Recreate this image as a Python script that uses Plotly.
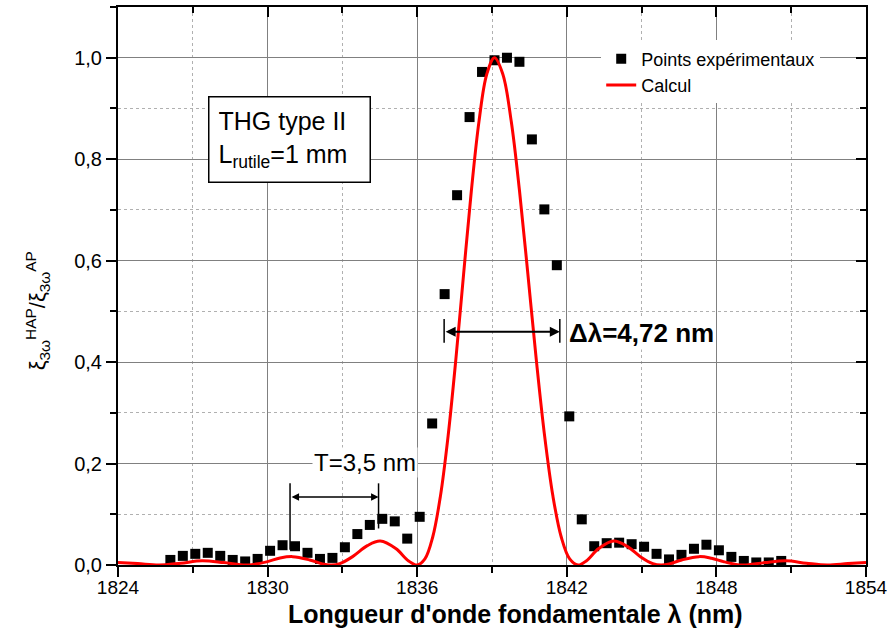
import plotly.graph_objects as go

# ---------------- data ----------------
exp_x = [1826.1, 1826.6, 1827.1, 1827.6, 1828.1, 1828.6, 1829.1, 1829.6, 1830.1, 1830.6,
         1831.1, 1831.6, 1832.1, 1832.6, 1833.1, 1833.6, 1834.1, 1834.6, 1835.1, 1835.6,
         1836.1, 1836.6, 1837.1, 1837.6, 1838.1, 1838.6, 1839.1, 1839.6, 1840.1, 1840.6,
         1841.1, 1841.6, 1842.1, 1842.6, 1843.1, 1843.6, 1844.1, 1844.6, 1845.1, 1845.6,
         1846.1, 1846.6, 1847.1, 1847.6, 1848.1, 1848.6, 1849.1, 1849.6, 1850.1, 1850.6]
exp_y = [0.010, 0.018, 0.022, 0.024, 0.018, 0.010, 0.007, 0.012, 0.028, 0.039,
         0.037, 0.024, 0.012, 0.014, 0.035, 0.061, 0.079, 0.091, 0.086, 0.052,
         0.095, 0.279, 0.534, 0.729, 0.883, 0.972, 0.995, 1.000, 0.992, 0.839,
         0.701, 0.591, 0.293, 0.090, 0.037, 0.043, 0.044, 0.041, 0.036, 0.022,
         0.011, 0.020, 0.032, 0.040, 0.029, 0.016, 0.008, 0.005, 0.005, 0.008]

calc_x = [1824.0, 1824.79, 1825.65, 1826.51, 1827.375, 1828.24, 1829.1, 1829.445, 1830.0, 1830.5,
          1831.0, 1831.69, 1832.2, 1832.55, 1832.895, 1833.41, 1834.0, 1834.52, 1835.14, 1835.655,
          1836.0, 1836.31, 1836.62, 1836.93, 1837.24, 1837.55, 1837.86, 1838.17, 1838.48, 1838.79,
          1839.1, 1839.435, 1839.77, 1840.105, 1840.44, 1840.775, 1841.11, 1841.445, 1841.78, 1842.115,
          1842.45, 1842.78, 1843.28, 1843.88, 1844.45, 1844.95, 1845.45, 1845.78, 1846.11, 1846.61,
          1847.31, 1847.8, 1848.28, 1848.78, 1849.11, 1849.94, 1850.78, 1851.61, 1852.44, 1853.27,
          1854.0]
calc_y = [0.0050, 0.0028, 0.0, 0.0036, 0.0083, 0.0048, 0.0, 0.0012, 0.0067, 0.0138,
          0.0165, 0.0100, 0.0022, 0.0, 0.0027, 0.0165, 0.0381, 0.0472, 0.0324, 0.0080,
          0.0, 0.0120, 0.0547, 0.1353, 0.2546, 0.4053, 0.5729, 0.7368, 0.8751, 0.9675,
          1.0, 0.9675, 0.8751, 0.7368, 0.5729, 0.4053, 0.2546, 0.1353, 0.0547, 0.0120,
          0.0, 0.0080, 0.0324, 0.0472, 0.0358, 0.0165, 0.0027, 0.0, 0.0022, 0.0100,
          0.0165, 0.0133, 0.0067, 0.0012, 0.0, 0.0048, 0.0083, 0.0036, 0.0, 0.0028,
          0.0049]

x_range = [1824, 1854]
y_range = [0, 1.1]
x_dtick, x_minor = 6, 3
y_dtick, y_minor = 0.2, 0.1

# ---------------- figure ----------------
FONT = "Liberation Sans, Arial, sans-serif"
fig = go.Figure()

fig.add_trace(go.Scatter(x=exp_x, y=exp_y, mode="markers", name="Points expérimentaux",
                         marker=dict(symbol="square", size=10, color="black")))
fig.add_trace(go.Scatter(x=calc_x, y=calc_y, mode="lines", name="Calcul",
                         line=dict(color="#ff0000", width=3, shape="spline", smoothing=1)))
# helper trace so the mirrored (top/right) tick axes are drawn
fig.add_trace(go.Scatter(x=[x_range[0]], y=[y_range[0]], xaxis="x2", yaxis="y2", mode="markers",
                         marker=dict(opacity=0), showlegend=False, hoverinfo="skip"))

grid_major = "#808080"
grid_minor = "#b0b0b0"

fig.update_layout(
    width=893, height=637,
    margin=dict(l=118, r=25, t=5, b=72),
    paper_bgcolor="white", plot_bgcolor="white",
    separators=", ",
    font=dict(family=FONT, color="black", size=19),
    showlegend=True,
    legend=dict(x=0.646, y=0.94, xanchor="left", yanchor="top", bgcolor="white",
                font=dict(size=18, family=FONT), tracegroupgap=0),
    xaxis=dict(range=x_range, tick0=x_range[0], dtick=x_dtick, tickformat="d",
               ticks="outside", ticklen=10, tickwidth=2, tickcolor="black",
               ticklabelstandoff=-6,
               showline=True, linewidth=2, linecolor="black", mirror=True,
               showgrid=True, gridcolor=grid_major, gridwidth=1, zeroline=False,
               tickfont=dict(size=19, family=FONT),
               minor=dict(tick0=x_range[0], dtick=x_minor, ticks="outside", ticklen=6, tickwidth=2,
                          tickcolor="black", showgrid=True, gridcolor=grid_minor,
                          griddash="dot", gridwidth=1)),
    yaxis=dict(range=y_range, tick0=0, dtick=y_dtick, tickformat=".1f",
               ticks="outside", ticklen=10, tickwidth=2, tickcolor="black",
               showline=True, linewidth=2, linecolor="black", mirror=True,
               showgrid=True, gridcolor=grid_major, gridwidth=1, zeroline=False,
               tickfont=dict(size=20, family=FONT),
               minor=dict(tick0=0, dtick=y_minor, ticks="outside", ticklen=6, tickwidth=2,
                          tickcolor="black", showgrid=True, gridcolor=grid_minor,
                          griddash="dot", gridwidth=1)),
    xaxis2=dict(overlaying="x", side="top", range=x_range, tick0=x_range[0], dtick=x_dtick,
                ticks="inside", ticklen=10, tickwidth=2, tickcolor="black",
                showticklabels=False, showgrid=False, showline=False, zeroline=False,
                minor=dict(tick0=x_range[0], dtick=x_minor, ticks="inside", ticklen=6,
                           tickwidth=2, tickcolor="black", showgrid=False)),
    yaxis2=dict(overlaying="y", side="right", range=y_range, tick0=0, dtick=y_dtick,
                ticks="inside", ticklen=10, tickwidth=2, tickcolor="black",
                showticklabels=False, showgrid=False, showline=False, zeroline=False,
                minor=dict(tick0=0, dtick=y_minor, ticks="inside", ticklen=6,
                           tickwidth=2, tickcolor="black", showgrid=False)),
)

# axis titles
fig.add_annotation(xref="paper", yref="paper", x=0.532, y=-0.087,
                   xanchor="center", yanchor="middle", showarrow=False,
                   text="<b>Longueur d'onde fondamentale λ (nm)</b>",
                   font=dict(size=25, family=FONT, color="black"))
fig.add_annotation(xref="paper", yref="paper", x=-0.108, y=0.455,
                   xanchor="center", yanchor="middle", showarrow=False, textangle=-90,
                   text="ξ<sub>3ω</sub><sup>HAP</sup>/ξ<sub>3ω</sub><sup>AP</sup>",
                   font=dict(size=22, family=FONT, color="black"))

# THG box
fig.add_annotation(x=1830.88, y=0.839, showarrow=False,
                   text="THG type II<br>L<sub>rutile</sub>=1 mm",
                   align="left", width=142, height=66,
                   bgcolor="white", bordercolor="black", borderwidth=1.5, borderpad=9,
                   font=dict(size=25, family=FONT, color="black"))

# T = 3,5 nm marker
fig.add_annotation(x=1833.91, y=0.202, showarrow=False, text="T=3,5 nm",
                   bgcolor="white", font=dict(size=24, family=FONT, color="black"))
fig.add_annotation(x=1834.45, y=0.134, ax=1830.9, ay=0.134, axref="x", ayref="y",
                   text="", showarrow=True, arrowside="end+start",
                   arrowhead=2, startarrowhead=2, arrowsize=1, startarrowsize=1,
                   arrowwidth=1.5, arrowcolor="black")
fig.add_shape(type="line", x0=1830.9, x1=1830.9, y0=0.03, y1=0.161,
              line=dict(color="black", width=1.5))
fig.add_shape(type="line", x0=1834.45, x1=1834.45, y0=0.072, y1=0.161,
              line=dict(color="black", width=1.5))

# Δλ marker
fig.add_annotation(x=1841.72, y=0.46, ax=1837.08, ay=0.46, axref="x", ayref="y",
                   text="", showarrow=True, arrowside="end+start",
                   arrowhead=2, startarrowhead=2, arrowsize=1, startarrowsize=1,
                   arrowwidth=2, arrowcolor="black")
fig.add_shape(type="line", x0=1837.08, x1=1837.08, y0=0.438, y1=0.485,
              line=dict(color="black", width=1.5))
fig.add_shape(type="line", x0=1841.72, x1=1841.72, y0=0.438, y1=0.485,
              line=dict(color="black", width=1.5))
fig.add_annotation(x=1842.0, y=0.458, xanchor="left", showarrow=False,
                   text="<b>Δλ=4,72 nm</b>", bgcolor="white",
                   font=dict(size=26, family=FONT, color="black"))

fig.write_html("out.html", config={"displayModeBar": False},
               post_script="document.body.style.margin='0';")
